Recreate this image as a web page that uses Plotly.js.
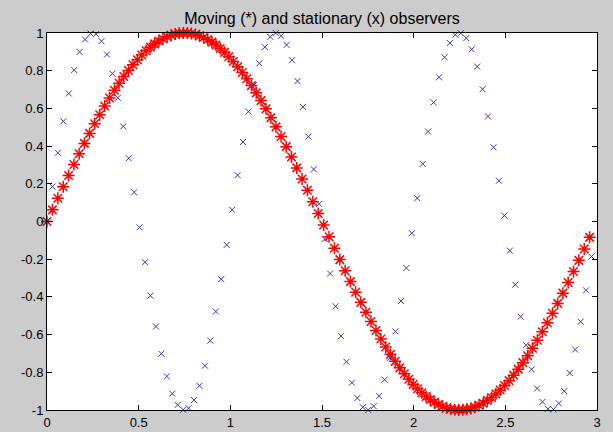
<!DOCTYPE html>
<html>
<head>
<meta charset="utf-8">
<script src="https://cdn.plot.ly/plotly-3.0.1.min.js"></script>
<style>
html,body{margin:0;padding:0;background:#cccccc;}
#chart{width:613px;height:432px;}
</style>
</head>
<body>
<div id="chart"></div>
<script>
// Moving observer (red asterisks)
var movingX = [
0, 0.0295, 0.059, 0.0884, 0.1176, 0.1467, 0.1755, 0.204, 0.2322, 0.2601,
0.2876, 0.3147, 0.3414, 0.3677, 0.3935, 0.419, 0.444, 0.4687, 0.493, 0.517,
0.5407, 0.564, 0.5871, 0.6099, 0.6325, 0.655, 0.6773, 0.6994, 0.7215, 0.7435,
0.7655, 0.7875, 0.8096, 0.8317, 0.854, 0.8765, 0.8991, 0.9219, 0.945, 0.9683,
0.992, 1.016, 1.0403, 1.065, 1.09, 1.1155, 1.1413, 1.1676, 1.1943, 1.2214,
1.2489, 1.2768, 1.305, 1.3335, 1.3623, 1.3914, 1.4206, 1.45, 1.4795,
1.509, 1.5385, 1.5679, 1.5972, 1.6262, 1.655, 1.6835, 1.7117, 1.7396, 1.7672,
1.7944, 1.8212, 1.8476, 1.8736, 1.8992, 1.9244, 1.9491, 1.9735, 1.9975, 2.0212,
2.0446, 2.0677, 2.0905, 2.1131, 2.1355, 2.1577, 2.1798, 2.2018, 2.2238, 2.2458,
2.2678, 2.2898, 2.3119, 2.3341, 2.3565, 2.3791, 2.4019, 2.425, 2.4484, 2.4721,
2.4961, 2.5205, 2.5452, 2.5703, 2.5958, 2.6217, 2.648, 2.6747, 2.7018, 2.7293,
2.7572, 2.7854, 2.8139, 2.8427, 2.8717, 2.9009, 2.9303, 2.9598
];
var movingY = [
0, 0.0618, 0.1233, 0.184, 0.2438, 0.3024, 0.3594, 0.4144, 0.4674, 0.5182,
0.5666, 0.6124, 0.6556, 0.6962, 0.7339, 0.7693, 0.8015, 0.8311, 0.8584, 0.8832,
0.9055, 0.925, 0.9424, 0.9571, 0.9699, 0.9805, 0.9884, 0.9945, 0.9981, 0.9999,
0.9995, 0.9969, 0.9922, 0.9854, 0.9764, 0.9651, 0.9516, 0.9359, 0.9178, 0.8973,
0.8745, 0.8489, 0.8207, 0.7903, 0.757, 0.7209, 0.6824, 0.6413, 0.5975, 0.551,
0.502, 0.4506, 0.3971, 0.3417, 0.2844, 0.2255, 0.1655, 0.1045, 0.0429,
-0.0189, -0.0805, -0.1417, -0.2022, -0.2612, -0.3189, -0.3749, -0.429, -0.481, -0.5309,
-0.5782, -0.6231, -0.6653, -0.7049, -0.7419, -0.7765, -0.8079, -0.8373, -0.8641, -0.8873,
-0.9089, -0.9281, -0.9446, -0.9591, -0.9713, -0.9813, -0.9893, -0.9949, -0.9985, -1.0,
-0.9993, -0.9965, -0.9916, -0.9845, -0.9752, -0.9637, -0.9498, -0.9336, -0.9149, -0.8937,
-0.8702, -0.8443, -0.815, -0.7833, -0.7488, -0.7118, -0.6722, -0.6297, -0.5847, -0.5372,
-0.4869, -0.4345, -0.38, -0.3235, -0.2655, -0.2061, -0.1455, -0.0841
];

// Stationary observer (blue x)
var stationaryX = [
0, 0.0297, 0.0594, 0.0891, 0.1188, 0.1485, 0.1782, 0.2079, 0.2376, 0.2673,
0.297, 0.3267, 0.3564, 0.3861, 0.4158, 0.4455, 0.4752, 0.5049, 0.5346, 0.5643,
0.594, 0.6237, 0.6534, 0.6831, 0.7128, 0.7425, 0.7722, 0.8019, 0.8316, 0.8613,
0.891, 0.9207, 0.9504, 0.9801, 1.0098, 1.0395, 1.0692, 1.0989, 1.1286, 1.1583,
1.188, 1.2177, 1.2474, 1.2771, 1.3068, 1.3365, 1.3662, 1.3959, 1.4256, 1.4553,
1.485, 1.5147, 1.5444, 1.5741, 1.6038, 1.6335, 1.6632, 1.6929, 1.7226, 1.7523,
1.782, 1.8117, 1.8414, 1.8711, 1.9008, 1.9305, 1.9602, 1.9899, 2.0196, 2.0493,
2.079, 2.1087, 2.1384, 2.1681, 2.1978, 2.2275, 2.2572, 2.2869, 2.3166, 2.3463,
2.376, 2.4057, 2.4354, 2.4651, 2.4948, 2.5245, 2.5542, 2.5839, 2.6136, 2.6433,
2.673, 2.7027, 2.7324, 2.7621, 2.7918, 2.8215, 2.8512, 2.8809, 2.9106, 2.9403,
2.97
];
var stationaryY = [
0, 0.1855, 0.3647, 0.5311, 0.6791, 0.8035, 0.8998, 0.9653, 0.997, 0.9941,
0.9567, 0.8859, 0.7845, 0.656, 0.5045, 0.3355, 0.155, -0.031, -0.216, -0.3934,
-0.5571, -0.7015, -0.8218, -0.9131, -0.9728, -0.9989, -0.9902, -0.9473, -0.8714, -0.765,
-0.6321, -0.4775, -0.3062, -0.1242, 0.0621, 0.2461, 0.4218, 0.5826, 0.7233, 0.839,
0.9254, 0.9796, 0.9999, 0.9855, 0.9368, 0.8554, 0.7446, 0.608, 0.45, 0.2764,
0.0934, -0.093, -0.2762, -0.4497, -0.6077, -0.7443, -0.8552, -0.9367, -0.9854, -0.9999,
-0.9797, -0.9255, -0.8392, -0.7235, -0.5828, -0.4221, -0.2465, -0.0624, 0.1239, 0.3058,
0.4772, 0.6319, 0.7649, 0.8712, 0.9472, 0.9902, 0.9989, 0.9729, 0.9132, 0.822,
0.7018, 0.5574, 0.3937, 0.2163, 0.0314, -0.1546, -0.3353, -0.5043, -0.6557, -0.7843,
-0.8857, -0.9566, -0.994, -0.997, -0.9653, -0.9, -0.8037, -0.6795, -0.5313, -0.365,
-0.1859
];

var xTickVals = [0, 0.5, 1, 1.5, 2, 2.5, 3];
var xTickText = ["0", "0.5", "1", "1.5", "2", "2.5", "3"];
var yTickVals = [-1, -0.8, -0.6, -0.4, -0.2, 0, 0.2, 0.4, 0.6, 0.8, 1];
var yTickText = ["-1", "-0.8", "-0.6", "-0.4", "-0.2", "0", "0.2", "0.4", "0.6", "0.8", "1"];
var titleText = "Moving (*) and stationary (x) observers";

var traces = [
  {
    x: movingX, y: movingY, type: "scatter", mode: "markers", cliponaxis: false,
    marker: {symbol: "asterisk-open", size: 10, color: "#ff0000", line: {color: "#ff0000", width: 1.5}},
    hoverinfo: "skip"
  },
  {
    x: stationaryX, y: stationaryY, type: "scatter", mode: "markers", cliponaxis: false,
    marker: {symbol: "x-thin-open", size: 6, color: "#3535b0", line: {color: "#3535b0", width: 1}},
    hoverinfo: "skip"
  }
];

var axisCommon = {
  showgrid: false, zeroline: false, showline: true, linecolor: "#000000", linewidth: 1,
  mirror: "ticks", ticks: "inside", ticklen: 5, tickwidth: 1, tickcolor: "#000000",
  tickfont: {family: "Liberation Sans, Arial, sans-serif", size: 13, color: "#000000"}
};

var layout = {
  width: 613, height: 432,
  paper_bgcolor: "#cccccc", plot_bgcolor: "#ffffff",
  margin: {l: 47, r: 16, t: 33, b: 22, pad: 0},
  showlegend: false,
  title: {
    text: titleText, x: 0.5, xref: "paper", xanchor: "center",
    y: 1 - 18 / 432, yref: "container", yanchor: "middle",
    font: {family: "Liberation Sans, Arial, sans-serif", size: 16, color: "#000000"}
  },
  xaxis: Object.assign({}, axisCommon, {range: [0, 3], tickmode: "array", tickvals: xTickVals, ticktext: xTickText}),
  yaxis: Object.assign({}, axisCommon, {range: [-1, 1], tickmode: "array", tickvals: yTickVals, ticktext: yTickText})
};

Plotly.newPlot("chart", traces, layout, {displayModeBar: false, staticPlot: true});
</script>
</body>
</html>
